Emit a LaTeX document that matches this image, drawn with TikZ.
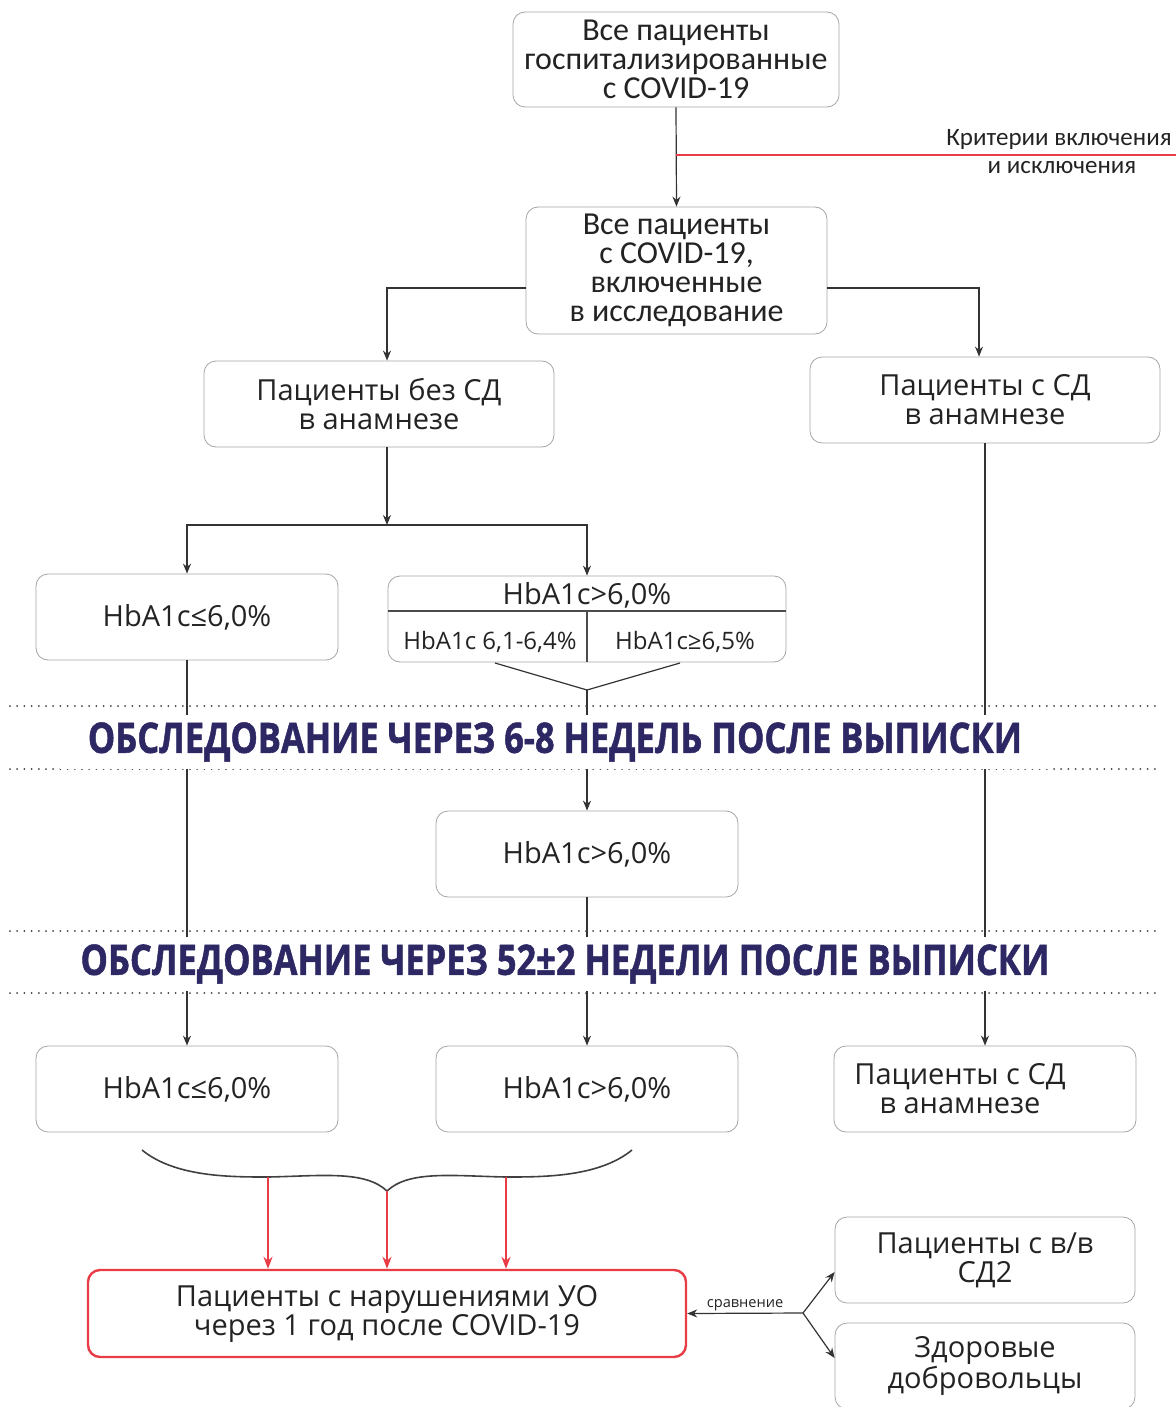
\documentclass[tikz,border=0pt]{standalone}
\usepackage{fontspec}
\usepackage{xcolor}
\usetikzlibrary{arrows.meta}
\setmainfont{Open Sans}
\newfontfamily\calfont{Carlito}
\newfontfamily\headfont[FakeStretch=0.82, FakeBold=1.2]{Open Sans}
\definecolor{boxgray}{RGB}{165,165,165}
\definecolor{txtgray}{RGB}{35,35,35}
\definecolor{critred}{RGB}{232,60,70}
\definecolor{headnavy}{RGB}{45,40,100}

\begin{document}
\begin{tikzpicture}[x=0.5pt, y=-0.5pt,
        box/.style={draw=boxgray, fill=white, rounded corners=6pt, align=center, text=txtgray,
          inner sep=0pt, minimum width=151pt, minimum height=43pt,
          font=\fontsize{14.5}{14.5}\selectfont},
        calbox/.style={box, font=\calfont\fontsize{16}{14.5}\selectfont},
        redbox/.style={box, draw=critred, line width=1.2pt},
        subtxt/.style={text=txtgray, inner sep=0pt, font=\fontsize{12}{12}\selectfont},
        arr/.style={-{Stealth[length=5pt, width=4pt]}, draw=black!80, line width=0.6pt},
        redarr/.style={-{Stealth[length=6pt, width=4.5pt]}, draw=critred, line width=1pt},
        band/.style={fill=white, text=headnavy, inner sep=0pt, minimum height=27pt,
          font=\headfont\bfseries\fontsize{21}{21}\selectfont},
        dotline/.style={draw=black!75, line width=1pt, line cap=round, dash pattern=on 0pt off 3.6pt}]
      \useasboundingbox (0,0) rectangle (1176,1407);
      % колонки (px): 187, 587, 985
      \def\colL{187}
      \def\colM{587}
      \def\colR{985}
      % Верхняя часть
      \node[calbox, minimum width=163pt, minimum height=47.5pt] (allhosp) at (676,59.5)
        {Все пациенты\\госпитализированные\\с COVID-19};
      \node[calbox, minimum width=150.5pt, minimum height=63.5pt] (allincl) at (676.5,270.5)
        {Все пациенты\\с COVID-19,\\включенные\\в исследование};
      \draw[arr] (allhosp.south) -- (allincl.north);
      % Критерии включения и исключения
      \coordinate (crit) at (676,155);
      \draw[critred, line width=0.8pt] (crit) -- (1176,155);
      \node[anchor=east, inner sep=0pt, text=txtgray, font=\calfont\fontsize{12.5}{12.5}\selectfont]
        (critA) at (1172,139) {Критерии включения};
      \node[inner sep=0pt, text=txtgray, font=\calfont\fontsize{12.5}{12.5}\selectfont]
        (critB) at (1062,168) {и исключения};
      % Без СД / с СД
      \node[box, minimum width=175pt] (noDM) at (379,404) {Пациенты без СД\\в анамнезе};
      \node[box, minimum width=175pt] (withDM) at (\colR,400) {Пациенты с СД\\в анамнезе};
      \draw[arr] ([yshift=-8.75pt]allincl.west) -| ([xshift=4pt]noDM.north);
      \draw[arr] ([yshift=-8.75pt]allincl.east) -| ([xshift=-3pt]withDM.north);
      % Разделение по HbA1c
      \coordinate (split) at (387,525);
      \node[box] (hbLow) at (\colL,617) {HbA1c≤6,0\%};
      \node[box, minimum width=199pt] (hbHigh) at (\colM,619) {};
      \draw[draw=black!70, line width=0.6pt] (hbHigh.west |- 0,611) -- (hbHigh.east |- 0,611);
      \draw[draw=black!70, line width=0.6pt] (\colM,611) -- (hbHigh.south);
      \node[subtxt, font=\fontsize{14.5}{14.5}\selectfont] (hbHighT) at (\colM,595) {HbA1c>6,0\%};
      \node[subtxt] (hbPre) at (490,642) {HbA1c 6,1-6,4\%};
      \node[subtxt] (hbDiab) at (685,642) {HbA1c≥6,5\%};
      \draw[arr] ([xshift=4pt]noDM.south) -- (split);
      \draw[arr] (split) -| (hbLow.north);
      \draw[arr] (split) -| (hbHigh.north);
      % слияние подгрупп
      \coordinate (mL) at (495,663);
      \coordinate (mR) at (680,663);
      \coordinate (merge) at (\colM,690);
      \draw[black!80, line width=0.6pt] (mL) -- (merge) -- (mR);
      % 6-8 недель
      \node[box] (hbMid) at (\colM,854) {HbA1c>6,0\%};
      % 52 недели
      \node[box] (hbLow2) at (\colL,1089) {HbA1c≤6,0\%};
      \node[box] (hbHigh2) at (\colM,1089) {HbA1c>6,0\%};
      \node[box] (withDM2) at (\colR,1089) {Пациенты с СД\hspace*{25pt}\\в анамнезе\hspace*{25pt}};
      \draw[arr] (merge) -- (hbMid.north);
      \draw[arr] (hbMid.south) -- (hbHigh2.north);
      \draw[arr] (hbLow.south) -- (hbLow2.north);
      \draw[arr] (withDM.south) -- (withDM2.north);
      % Полосы обследования
      \foreach \yy in {706,769,931,993}
        \draw[dotline] (10,\yy) -- (1162,\yy);
      \node[band, minimum width=495pt] (visit1) at (555,742)
        {ОБСЛЕДОВАНИЕ ЧЕРЕЗ 6-8 НЕДЕЛЬ ПОСЛЕ ВЫПИСКИ};
      \node[band, minimum width=505pt] (visit2) at (565,964)
        {ОБСЛЕДОВАНИЕ ЧЕРЕЗ 52±2 НЕДЕЛИ ПОСЛЕ ВЫПИСКИ};
      % Фигурная скобка
      \coordinate (brL) at (268,1177);
      \coordinate (brM) at (387,1191);
      \coordinate (brR) at (506,1177);
      \draw[black!75, line width=0.8pt] (142,1150) .. controls (175,1177) and (230,1177) .. (brL)
        .. controls (320,1176) and (365,1170) .. (brM)
        .. controls (409,1170) and (454,1176) .. (brR)
        .. controls (544,1177) and (599,1177) .. (632,1150);
      % Итоговая группа
      \node[redbox, minimum width=299pt, minimum height=43.5pt] (result) at (387,1313.5)
        {Пациенты с нарушениями УО\\через 1 год после COVID-19};
      \draw[redarr] (brL) -- (brL |- result.north);
      \draw[redarr] (brM) -- (result.north);
      \draw[redarr] (brR) -- (brR |- result.north);
      % Сравнение
      \node[box, minimum width=150pt] (cmpDM) at (\colR,1260) {Пациенты с в/в\\СД2};
      \node[box, minimum width=150pt] (cmpHealthy) at (\colR,1366) {Здоровые\\добровольцы};
      \coordinate (cmp) at (803,1313);
      \draw[arr] (cmp) -- (result.east)
        node[midway, above=1pt, inner sep=0pt, text=txtgray, font=\fontsize{7.3}{7.3}\selectfont] {сравнение};
      \draw[arr] (cmp) -- ([yshift=-6pt]cmpDM.west);
      \draw[arr] (cmp) -- ([yshift=4pt]cmpHealthy.west);
    \end{tikzpicture}
\end{document}
